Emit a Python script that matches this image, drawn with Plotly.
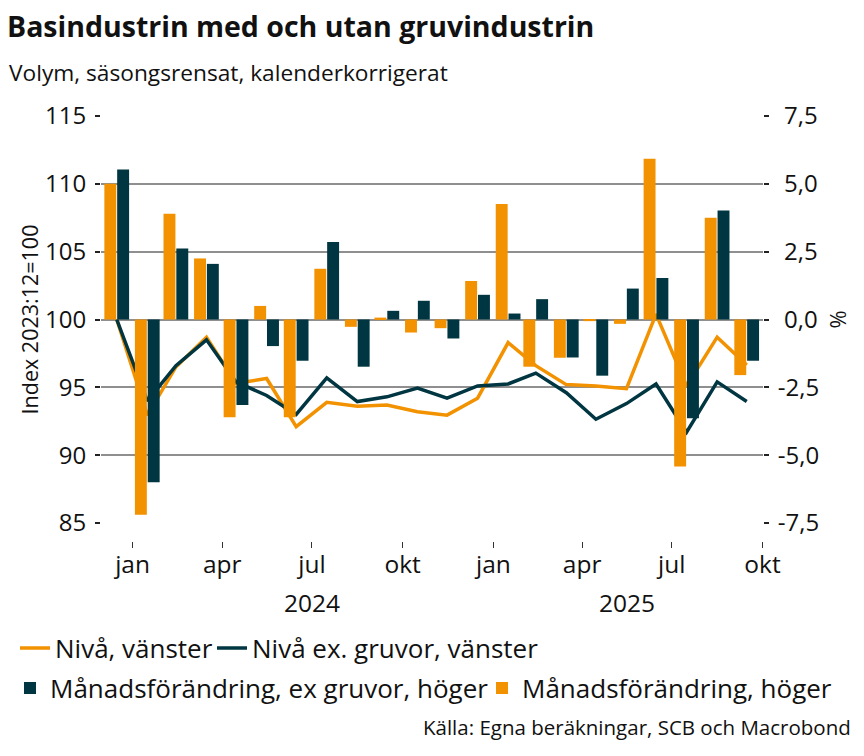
import plotly.graph_objects as go

# ---------------- data ----------------
months = ["2023-12-31", "2024-01-31", "2024-02-29", "2024-03-31", "2024-04-30", "2024-05-31",
          "2024-06-30", "2024-07-31", "2024-08-31", "2024-09-30", "2024-10-31", "2024-11-30",
          "2024-12-31", "2025-01-31", "2025-02-28", "2025-03-31", "2025-04-30", "2025-05-31",
          "2025-06-30", "2025-07-31", "2025-08-31", "2025-09-30"]

niva = [100.0, 92.95, 96.5, 98.7, 95.3, 95.65, 92.1, 93.9, 93.6, 93.7, 93.2, 92.95,
        94.2, 98.3, 96.6, 95.2, 95.1, 94.9, 100.4, 95.1, 98.7, 96.65]
niva_ex = [100.0, 94.0, 96.6, 98.5, 95.4, 94.4, 93.0, 95.7, 93.95, 94.3, 94.95, 94.2,
           95.1, 95.25, 96.05, 94.6, 92.65, 93.8, 95.25, 91.7, 95.4, 93.95]
mf = [5.0, -7.2, 3.9, 2.25, -3.6, 0.5, -3.6, 1.87, -0.27, 0.07, -0.48, -0.32,
      1.42, 4.26, -1.74, -1.41, -0.06, -0.16, 5.92, -5.42, 3.75, -2.05]
mf_ex = [5.53, -6.0, 2.62, 2.05, -3.15, -0.98, -1.52, 2.86, -1.74, 0.32, 0.69, -0.70,
         0.91, 0.22, 0.75, -1.40, -2.07, 1.14, 1.53, -3.64, 4.02, -1.52]

xtick_vals = ["2024-01-16", "2024-04-16", "2024-07-16", "2024-10-16",
              "2025-01-16", "2025-04-16", "2025-07-16", "2025-10-16"]
xtick_text = ["jan", "apr", "jul", "okt", "jan", "apr", "jul", "okt"]
year_labels = ["2024", "2025"]
year_pos = ["2024-07-16", "2025-06-01"]

left_ticks = [85, 90, 95, 100, 105, 110, 115]
right_ticks = [-7.5, -5.0, -2.5, 0.0, 2.5, 5.0, 7.5]
right_text = ["-7,5", "-5,0", "-2,5", "\u20080,0", "\u20082,5", "\u20085,0", "\u20087,5"]

ORANGE = "#F39200"
DARK = "#003641"
GRID = "#8f8f8f"
FONT = "Open Sans"
TXT = "#111111"
DAY = 86400000

fig = go.Figure()

fig.add_trace(go.Scatter(x=months, y=niva, mode="lines", name="Nivå, vänster",
                         line=dict(color=ORANGE, width=3.5), yaxis="y", legend="legend"))
fig.add_trace(go.Scatter(x=months, y=niva_ex, mode="lines", name="Nivå ex. gruvor, vänster",
                         line=dict(color=DARK, width=3.5), yaxis="y", legend="legend2"))
fig.add_trace(go.Bar(x=months, y=mf_ex, name="Månadsförändring, ex gruvor, höger",
                     marker=dict(color=DARK, line=dict(width=0)), yaxis="y2",
                     width=12.1 * DAY, offset=0.4 * DAY, legend="legend3"))
fig.add_trace(go.Bar(x=months, y=mf, name="Månadsförändring, höger",
                     marker=dict(color=ORANGE, line=dict(width=0)), yaxis="y2",
                     width=12.1 * DAY, offset=-12.6 * DAY, legend="legend4"))

W, H = 864, 756
L, R, T, B = 101, 101, 116, 215
PW, PH = W - L - R, H - T - B


def px_x(p):
    return (p - L) / PW


def px_y(p):
    return (H - B - p) / PH


ydom0 = 18 / PH

leg_common = dict(orientation="h", bgcolor="rgba(0,0,0,0)", borderwidth=0,
                  font=dict(family=FONT, size=26, color=TXT), yanchor="middle",
                  xanchor="left", itemclick=False, itemdoubleclick=False)

fig.update_layout(
    width=W, height=H,
    margin=dict(l=L, r=R, t=T, b=B, pad=0, autoexpand=False),
    paper_bgcolor="white", plot_bgcolor="white",
    font=dict(family=FONT, size=24, color=TXT),
    barmode="overlay",
    showlegend=True,
    title=dict(text="<b>Basindustrin med och utan gruvindustrin</b>",
               font=dict(family=FONT, size=28.5, color=TXT),
               xref="container", yref="container", x=7 / W, xanchor="left",
               y=1 - 27 / H, yanchor="middle", pad=dict(l=0, r=0, t=0, b=0)),
    xaxis=dict(type="date", range=["2023-12-15", "2025-10-16 12:00"],
               tickmode="array", tickvals=xtick_vals, ticktext=xtick_text,
               ticks="outside", ticklen=6, tickwidth=1, tickcolor="#333333",
               showgrid=False, zeroline=False, showline=False,
               anchor="free", position=0, automargin=False, ticklabelstandoff=-4,
               tickfont=dict(family=FONT, size=24.5, color=TXT)),
    yaxis=dict(range=[85, 115], domain=[ydom0, 1], tickmode="array", tickvals=left_ticks,
               ticktext=[str(v) for v in left_ticks], automargin=False,
               ticks="outside", ticklen=5, tickwidth=1.5, tickcolor="#222222",
               showgrid=True, gridcolor=GRID, gridwidth=1.5, zeroline=False,
               showline=False, ticklabelstandoff=4,
               tickfont=dict(family=FONT, size=24, color=TXT),
               title=dict(text="Index 2023:12=100", standoff=0,
                          font=dict(family=FONT, size=21.5, color=TXT))),
    yaxis2=dict(range=[-7.5, 7.5], domain=[ydom0, 1], overlaying="y", side="right",
                anchor="x", tickmode="array", tickvals=right_ticks, ticktext=right_text,
                ticks="outside", ticklen=5, tickwidth=1.5, tickcolor="#222222",
                showgrid=False, zeroline=False, showline=False, ticklabelstandoff=4,
                automargin=False,
                tickfont=dict(family=FONT, size=24, color=TXT),
                title=dict(text="%", standoff=12,
                           font=dict(family=FONT, size=22, color=TXT))),
    legend=dict(leg_common, x=px_x(15), y=px_y(648)),
    legend2=dict(leg_common, x=px_x(212), y=px_y(648)),
    legend3=dict(leg_common, x=px_x(10), y=px_y(688)),
    legend4=dict(leg_common, x=px_x(482), y=px_y(688)),
)

annotations = [
    dict(text="Volym, säsongsrensat, kalenderkorrigerat", xref="paper", yref="paper",
         x=px_x(7), y=px_y(72), xanchor="left", yanchor="middle", showarrow=False,
         font=dict(family=FONT, size=22.7, color=TXT)),
    dict(text="Källa: Egna beräkningar, SCB och Macrobond", xref="paper", yref="paper",
         x=px_x(853), y=px_y(727), xanchor="right", yanchor="middle", showarrow=False,
         font=dict(family=FONT, size=20.5, color=TXT)),
]
for lab, pos in zip(year_labels, year_pos):
    annotations.append(dict(text=lab, xref="x", yref="paper", x=pos, y=px_y(602),
                            xanchor="center", yanchor="middle", showarrow=False,
                            font=dict(family=FONT, size=24.5, color=TXT)))
fig.update_layout(annotations=annotations)

fig.write_html("out.html", config={"displayModeBar": False},
               post_script="document.body.style.margin='0';document.body.style.padding='0';")
